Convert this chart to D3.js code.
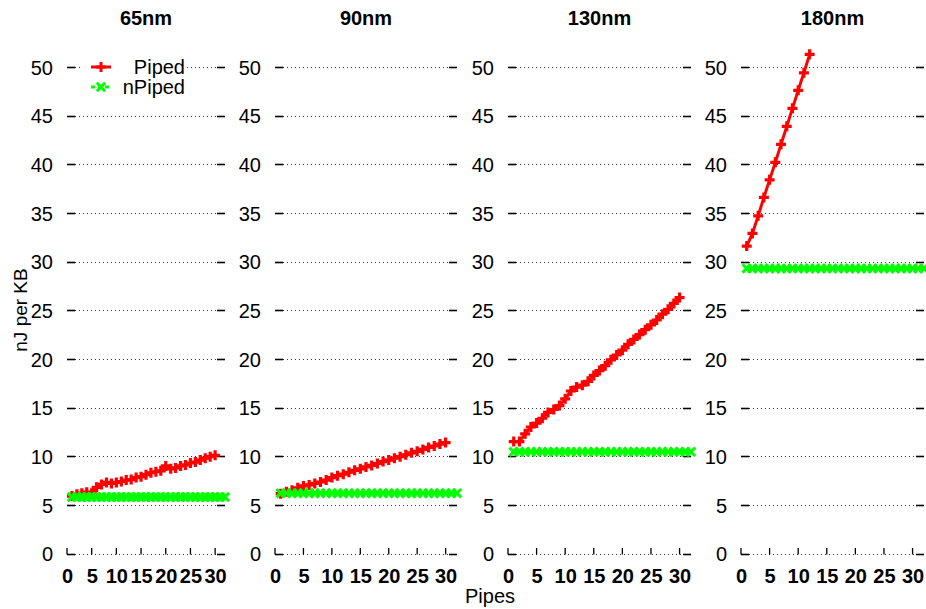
<!DOCTYPE html>
<html>
<head>
<meta charset="utf-8">
<script src="https://cdn.jsdelivr.net/npm/d3@7"></script>
<style>
  html, body { margin: 0; padding: 0; background: #fff; }
  svg { display: block; }
  .narrow { font-family: "Liberation Sans Narrow", "Arial Narrow", "Liberation Sans", Arial, sans-serif; font-stretch: condensed; }
  .reg { font-family: "Liberation Sans", Arial, Helvetica, sans-serif; }
</style>
</head>
<body>
<svg id="chart" width="926" height="609"></svg>
<script>
// ---------------- data ----------------
const panelTitles = ["65nm", "90nm", "130nm", "180nm"];
const seriesNames = ["Piped", "nPiped"];

const pipes30 = [1,2,3,4,5,6,7,8,9,10,11,12,13,14,15,16,17,18,19,20,21,22,23,24,25,26,27,28,29,30];
const pipes12 = [1,2,3,4,5,6,7,8,9,10,11,12];
const pipes32 = [1,2,3,4,5,6,7,8,9,10,11,12,13,14,15,16,17,18,19,20,21,22,23,24,25,26,27,28,29,30,31,32];

const piped65 = [5.9,6.1,6.2,6.3,6.2,6.8,7.1,7.3,7.2,7.3,7.4,7.55,7.6,7.8,7.9,8.1,8.3,8.4,8.5,9.0,8.7,8.8,9.0,9.1,9.3,9.4,9.6,9.8,9.95,10.1];
const piped90 = [6.15,6.35,6.5,6.75,6.95,7.05,7.2,7.35,7.55,7.8,8.0,8.15,8.35,8.55,8.7,8.9,9.05,9.25,9.45,9.6,9.8,9.95,10.15,10.35,10.5,10.7,10.9,11.05,11.25,11.4];
const piped130 = [11.5,11.5,12.3,13.0,13.4,13.9,14.5,14.8,15.2,15.9,16.7,17.1,17.3,17.7,18.3,18.8,19.3,19.9,20.4,20.9,21.5,22.0,22.5,23.0,23.5,24.0,24.6,25.1,25.7,26.3];
const piped180 = [31.6,32.9,34.7,36.6,38.4,40.2,42.05,43.9,45.75,47.6,49.4,51.3];

const npiped65 = [5.8,5.8,5.8,5.8,5.8,5.8,5.8,5.8,5.8,5.8,5.8,5.8,5.8,5.8,5.8,5.8,5.8,5.8,5.8,5.8,5.8,5.8,5.8,5.8,5.8,5.8,5.8,5.8,5.8,5.8,5.8,5.8];
const npiped90 = [6.2,6.2,6.2,6.2,6.2,6.2,6.2,6.2,6.2,6.2,6.2,6.2,6.2,6.2,6.2,6.2,6.2,6.2,6.2,6.2,6.2,6.2,6.2,6.2,6.2,6.2,6.2,6.2,6.2,6.2,6.2,6.2];
const npiped130 = [10.45,10.45,10.45,10.45,10.45,10.45,10.45,10.45,10.45,10.45,10.45,10.45,10.45,10.45,10.45,10.45,10.45,10.45,10.45,10.45,10.45,10.45,10.45,10.45,10.45,10.45,10.45,10.45,10.45,10.45,10.45,10.45];
const npiped180 = [29.3,29.3,29.3,29.3,29.3,29.3,29.3,29.3,29.3,29.3,29.3,29.3,29.3,29.3,29.3,29.3,29.3,29.3,29.3,29.3,29.3,29.3,29.3,29.3,29.3,29.3,29.3,29.3,29.3,29.3,29.3,29.3];

const yTicks = [0,5,10,15,20,25,30,35,40,45,50];
const xTicks = [0,5,10,15,20,25,30];

const pipedX = [pipes30, pipes30, pipes30, pipes12];
const pipedY = [piped65, piped90, piped130, piped180];
const npipedX = [pipes32, pipes32, pipes32, pipes32];
const npipedY = [npiped65, npiped90, npiped130, npiped180];

// ---------------- layout ----------------
const svg = d3.select("#chart");
const panelRanges = [[67, 225], [275, 457], [508, 691], [741, 924]];
const y = d3.scaleLinear().domain([0, 52]).range([553.5, 553.5 - 52 * 9.73]);
const RED = "#ff0000", GREEN = "#00ff00";
const plusPath = "M-5,0H5M0,-5V5";
const crossPath = "M-4.2,-4.2L4.2,4.2M-4.2,4.2L4.2,-4.2";

panelTitles.forEach((title, i) => {
  const x = d3.scaleLinear().domain([0, 32]).range(panelRanges[i]);
  const g = svg.append("g");
  const x0 = x.range()[0], x1 = x.range()[1];

  // grid lines (dotted) and mirrored tick marks
  g.selectAll("line.grid").data(yTicks).join("line")
    .attr("x1", x0).attr("x2", x1)
    .attr("y1", d => Math.round(y(d)) + 0.5).attr("y2", d => Math.round(y(d)) + 0.5)
    .attr("stroke", "#333").attr("stroke-width", 1).attr("stroke-dasharray", "1,3");
  g.selectAll("line.lt").data(yTicks).join("line")
    .attr("x1", x0).attr("x2", x0 + 8)
    .attr("y1", d => Math.round(y(d)) + 0.5).attr("y2", d => Math.round(y(d)) + 0.5)
    .attr("stroke", "#000").attr("stroke-width", 1.6);
  g.selectAll("line.rt").data(yTicks).join("line")
    .attr("x1", x1 - 8).attr("x2", x1)
    .attr("y1", d => Math.round(y(d)) + 0.5).attr("y2", d => Math.round(y(d)) + 0.5)
    .attr("stroke", "#000").attr("stroke-width", 1.6);
  // x tick marks (upwards from y=0)
  g.selectAll("line.xt").data(xTicks).join("line")
    .attr("x1", d => x(d)).attr("x2", d => x(d))
    .attr("y1", Math.round(y(0)) + 0.5).attr("y2", Math.round(y(0)) - 6)
    .attr("stroke", "#000").attr("stroke-width", 1.3);

  // y axis labels
  const ya = g.append("g").attr("transform", `translate(${x0},0)`)
    .call(d3.axisLeft(y).tickValues(yTicks).tickSize(0).tickPadding(14));
  ya.select(".domain").remove();
  ya.selectAll("text").attr("class", "reg").attr("font-size", 20).attr("fill", "#000")
    .attr("dy", "0.36em");

  // x axis labels
  const xa = g.append("g").attr("transform", `translate(0,${y(0)})`)
    .call(d3.axisBottom(x).tickValues(xTicks).tickSize(0).tickPadding(15));
  xa.select(".domain").remove();
  xa.selectAll("text").attr("class", "narrow").attr("font-size", 20).attr("font-weight", "bold")
    .attr("fill", "#000").attr("dy", "0.71em");

  // title
  g.append("text").attr("class", "narrow")
    .attr("x", (x0 + x1) / 2).attr("y", 25)
    .attr("text-anchor", "middle").attr("font-size", 20).attr("font-weight", "bold")
    .text(title);

  // Piped series
  const pd = pipedX[i].map((p, k) => [p, pipedY[i][k]]);
  const line = d3.line().x(d => x(d[0])).y(d => y(d[1]));
  g.append("path").datum(pd).attr("d", line)
    .attr("fill", "none").attr("stroke", RED).attr("stroke-width", 3).attr("stroke-linejoin", "round");
  g.selectAll("path.pm").data(pd).join("path")
    .attr("transform", d => `translate(${x(d[0])},${y(d[1])})`)
    .attr("d", plusPath).attr("stroke", RED).attr("stroke-width", 3.2).attr("fill", "none");

  // nPiped series
  const nd = npipedX[i].map((p, k) => [p, npipedY[i][k]]);
  g.append("path").datum(nd).attr("d", line)
    .attr("fill", "none").attr("stroke", GREEN).attr("stroke-width", 3);
  g.selectAll("path.nm").data(nd).join("path")
    .attr("transform", d => `translate(${x(d[0])},${y(d[1])})`)
    .attr("d", crossPath).attr("stroke", GREEN).attr("stroke-width", 3).attr("fill", "none");

  // legend in first panel
  if (i === 0) {
    const lg = g.append("g");
    lg.append("rect").attr("x", 80).attr("y", 56).attr("width", 107).attr("height", 42).attr("fill", "#fff");
    const cols = [RED, GREEN];
    const marks = [plusPath, crossPath];
    seriesNames.forEach((name, k) => {
      const ly = 67 + k * 20;
      lg.append("line").attr("x1", 91).attr("x2", 111).attr("y1", ly).attr("y2", ly)
        .attr("stroke", cols[k]).attr("stroke-width", 3)
        .attr("stroke-dasharray", k === 1 ? "4,3" : null);
      lg.append("path").attr("transform", `translate(101,${ly})`).attr("d", marks[k])
        .attr("stroke", cols[k]).attr("stroke-width", 3).attr("fill", "none");
      lg.append("text").attr("class", "narrow").attr("x", 185).attr("y", ly + 7)
        .attr("text-anchor", "end").attr("font-size", 20).text(name);
    });
  }
});

// axis titles
svg.append("text").attr("class", "reg")
  .attr("x", 490).attr("y", 603).attr("text-anchor", "middle").attr("font-size", 20).text("Pipes");
svg.append("text").attr("class", "reg")
  .attr("transform", "translate(27,310) rotate(-90)")
  .attr("text-anchor", "middle").attr("font-size", 19).text("nJ per KB");
</script>
</body>
</html>
